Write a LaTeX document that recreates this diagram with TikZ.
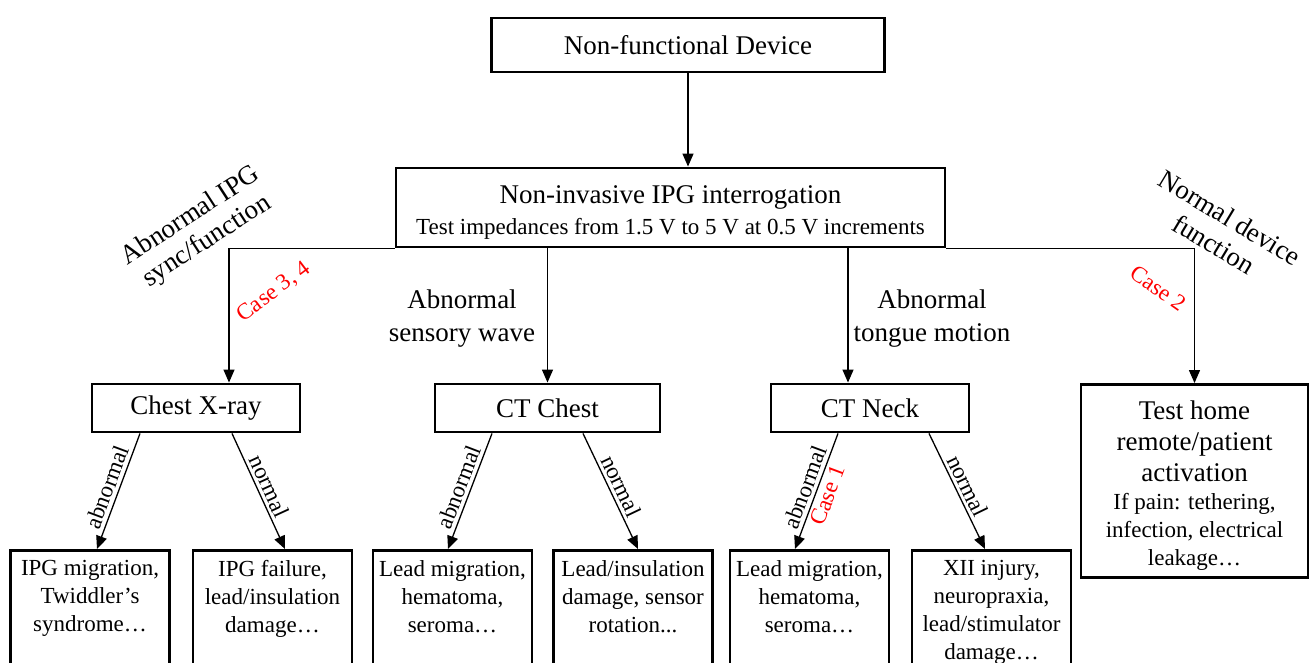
\documentclass[tikz,border=0pt]{standalone}
\usepackage{fontspec}
\setmainfont{Liberation Serif}
\usetikzlibrary{arrows.meta}
\newcommand\leaftxt[1]{\parbox[t][118pt][t]{159pt}{\centering #1}}
\begin{document}
\begin{tikzpicture}[x=1pt,y=-1pt,
  box/.style={draw, line width=2.9pt, inner sep=0pt, align=center},
  conn/.style={line width=1.3pt, -{Triangle[length=13pt,width=11pt]}},
  big/.style={font=\fontsize{27}{32}\selectfont},
  mid/.style={font=\fontsize{23}{28}\selectfont},
  redlab/.style={text=red, font=\fontsize{23}{27}\selectfont},
  leaf/.style={box, anchor=north, inner ysep=10pt, inner xsep=0pt, mid},
]
\useasboundingbox (0,0) rectangle (1310,662);
\fill[white] (0,0) rectangle (1310,662);
\clip (0,0) rectangle (1310,662);

% main boxes
\node[box,big,minimum width=393pt,minimum height=54pt] (dev) at (688,45) {Non-functional Device};
\node[box,minimum width=549pt,minimum height=79pt,font=\fontsize{23}{31}\selectfont] (ipg) at (670.5,207.5)
  {\rule{0pt}{27pt}{\fontsize{27}{31}\selectfont Non-invasive IPG interrogation}\\Test impedances from 1.5 V to 5 V at 0.5 V increments};
\node[box,big,minimum width=208pt,minimum height=48pt] (xray) at (196,408) {Chest X-ray};
\node[box,big,minimum width=225pt,minimum height=48pt] (ctc) at (547.5,408) {CT Chest};
\node[box,big,minimum width=198pt,minimum height=48pt] (ctn) at (870,408) {CT Neck};
\node[box,minimum width=227pt,minimum height=193pt,font=\fontsize{23}{28}\selectfont] (home) at (1194.5,481)
  {\rule{0pt}{27pt}{\fontsize{27}{28}\selectfont Test home}\\[3pt]{\fontsize{27}{28}\selectfont remote/patient}\\[3pt]{\fontsize{27}{28}\selectfont activation}\\If pain: tethering,\\infection, electrical\\leakage…};

% leaves
\node[leaf] (l1) at (90,549) {\leaftxt{IPG migration,\\Twiddler's\\syndrome…}};
\node[leaf] (l2) at (272.5,549) {\leaftxt{IPG failure,\\lead/insulation\\damage…}};
\node[leaf] (l3) at (452.5,549) {\leaftxt{Lead migration,\\hematoma,\\seroma…}};
\node[leaf] (l4) at (633,549) {\leaftxt{Lead/insulation\\damage, sensor\\rotation...}};
\node[leaf] (l5) at (809.5,549) {\leaftxt{Lead migration,\\hematoma,\\seroma…}};
\node[leaf] (l6) at (991.5,549) {\leaftxt{XII injury,\\neuropraxia,\\lead/stimulator\\damage…}};

% free labels
\node[big, rotate=33, align=center, font=\fontsize{27}{30}\selectfont] (lab1) at (199,229) {Abnormal IPG\\sync/function};
\node[big, rotate=-31, align=center, font=\fontsize{27}{31}\selectfont] (lab2) at (1222,231) {Normal device\\function};
\node[redlab, rotate=37] (c34) at (274,292) {Case 3, 4};
\node[redlab, rotate=-35] (c2) at (1158,288) {Case 2};
\node[big, align=center, font=\fontsize{27}{33}\selectfont] (asw) at (462,319) {Abnormal\\sensory wave};
\node[big, align=center, font=\fontsize{27}{33}\selectfont] (atm) at (932,319) {Abnormal\\tongue motion};

% connectors
\coordinate (xl) at (229,0);
\coordinate (xn) at (848,0);
\draw[conn] (dev.south) -- (dev.south |- ipg.north);
\draw[conn] (ipg.south west) -- (xl |- ipg.south) -- (xl |- xray.north);
\draw[conn] (ctc.north |- ipg.south) -- (ctc.north);
\draw[conn] (xn |- ipg.south) -- (xn |- ctn.north);
\draw[conn] (ipg.south east) -| (home.north);

\draw[conn] ([xshift=-56pt]xray.south) -- ([xshift=7pt]l1.north) node[midway, sloped, above, mid] {abnormal};
\draw[conn] ([xshift=36pt]xray.south) -- ([xshift=12.5pt]l2.north) node[midway, sloped, above, mid] {normal};
\draw[conn] ([xshift=-55.5pt]ctc.south) -- ([xshift=-4.5pt]l3.north) node[midway, sloped, above, mid] {abnormal};
\draw[conn] ([xshift=35.5pt]ctc.south) -- ([xshift=5pt]l4.north) node[midway, sloped, above, mid] {normal};
\draw[conn] ([xshift=-32pt]ctn.south) -- ([xshift=-14.5pt]l5.north) node[midway, sloped, above, mid] {abnormal} node[midway, sloped, below, redlab] {Case 1};
\draw[conn] ([xshift=59pt]ctn.south) -- ([xshift=-6.5pt]l6.north) node[midway, sloped, above, mid] {normal};
\end{tikzpicture}
\end{document}
